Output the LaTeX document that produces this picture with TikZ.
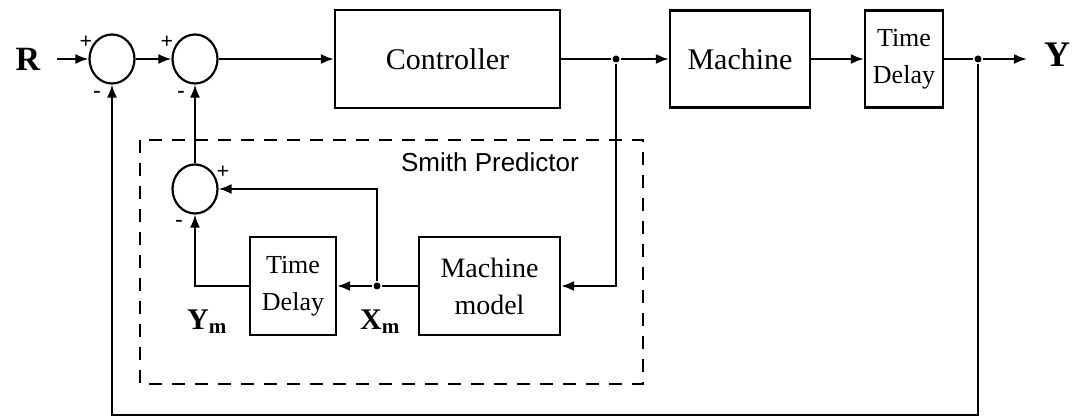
\documentclass[tikz,border=0pt]{standalone}
\usepackage{fontspec}
\setmainfont{Liberation Serif}
\newfontfamily\sansf{Liberation Sans}
\usetikzlibrary{arrows.meta,calc,shapes.geometric}
\begin{document}
\begin{tikzpicture}[x=1pt,y=-1pt,
  line width=2.2pt,
  arr/.style={-{Latex[length=13pt,width=10pt]}},
  blk/.style={draw,rectangle,inner sep=0pt,align=center},
  sumc/.style={draw,ellipse,minimum width=45pt,minimum height=49pt,inner sep=0pt},
  dotj/.style={circle,fill,inner sep=0pt,minimum size=7pt},
  sgn/.style={font=\fontsize{22}{22}\selectfont\bfseries,inner sep=0pt},
  dsh/.style={line width=1.7pt,dash pattern=on 13pt off 10pt}]
\useasboundingbox (0,0) rectangle (1072,419);
% blocks
\node[blk,minimum width=225pt,minimum height=98pt,font=\fontsize{30}{30}\selectfont] (ctrl) at (447.5,59) {Controller};
\node[blk,minimum width=140pt,minimum height=97pt,font=\fontsize{30}{30}\selectfont] (mach) at (740,59) {Machine};
\node[blk,minimum width=78pt,minimum height=97pt,font=\fontsize{26}{37}\selectfont] (td1) at (904,59) {Time\\Delay};
\node[blk,minimum width=141pt,minimum height=98pt,font=\fontsize{28}{37}\selectfont] (mm) at (489.5,286) {Machine\\model};
\node[blk,minimum width=86pt,minimum height=98pt,font=\fontsize{26}{37}\selectfont] (td2) at (293,286) {Time\\Delay};
% summing junctions
\node[sumc] (s1) at (112,59) {};
\node[sumc] (s2) at (195,59) {};
\node[sumc] (s3) at (195,189) {};
% junction dots
\node[dotj] (j1) at (616,59) {};
\node[dotj] (j2) at (377,286) {};
\node[dotj] (j3) at (978,59) {};
\coordinate (rin) at (57,59);
\coordinate (yout) at (1027,59);
\coordinate (fb) at (978,415);
% labels
\node[font=\fontsize{34}{34}\selectfont\bfseries] (R) at (28,59) {R};
\node[font=\fontsize{36}{36}\selectfont\bfseries] (Y) at (1057,55) {Y};
\node[font=\fontsize{30}{30}\selectfont\bfseries,anchor=base west,inner sep=0pt] (ym) at (186,330) {Y\textsubscript{m}};
\node[font=\fontsize{30}{30}\selectfont\bfseries,anchor=base west,inner sep=0pt] (xm) at (359,330) {X\textsubscript{m}};
\node[font=\fontsize{26}{26}\selectfont\sansf,anchor=west,inner sep=0pt] (sp) at (400,162) {Smith Predictor};
% signs
\node[sgn] (p1) at (86,42) {+};
\node[sgn] (m1) at (97,94) {-};
\node[sgn] (p2) at (167,42) {+};
\node[sgn] (m2) at (181,94) {-};
\node[sgn] (p3) at (223,172) {+};
\node[sgn] (m3) at (179,223) {-};
% dashed box
\draw[dsh] (140,140) rectangle (643,384);
% connectors
\draw[arr] (rin) -- (s1.west);
\draw[arr] (s1.east) -- (s2.west);
\draw[arr] (s2.east) -- (ctrl.west);
\draw (ctrl.east) -- (j1);
\draw[arr] (j1) -- (mach.west);
\draw[arr] (mach.east) -- (td1.west);
\draw (td1.east) -- (j3);
\draw[arr] (j3) -- (yout);
\draw[arr] (j1) |- (mm.east);
\draw (mm.west) -- (j2);
\draw[arr] (j2) -- (td2.east);
\draw[arr] (j2) |- (s3.east);
\draw[arr] (td2.west) -| (s3.south);
\draw[arr] (s3.north) -- (s2.south);
\draw[arr] (j3) -- (fb) -| (s1.south);
\end{tikzpicture}
\end{document}
